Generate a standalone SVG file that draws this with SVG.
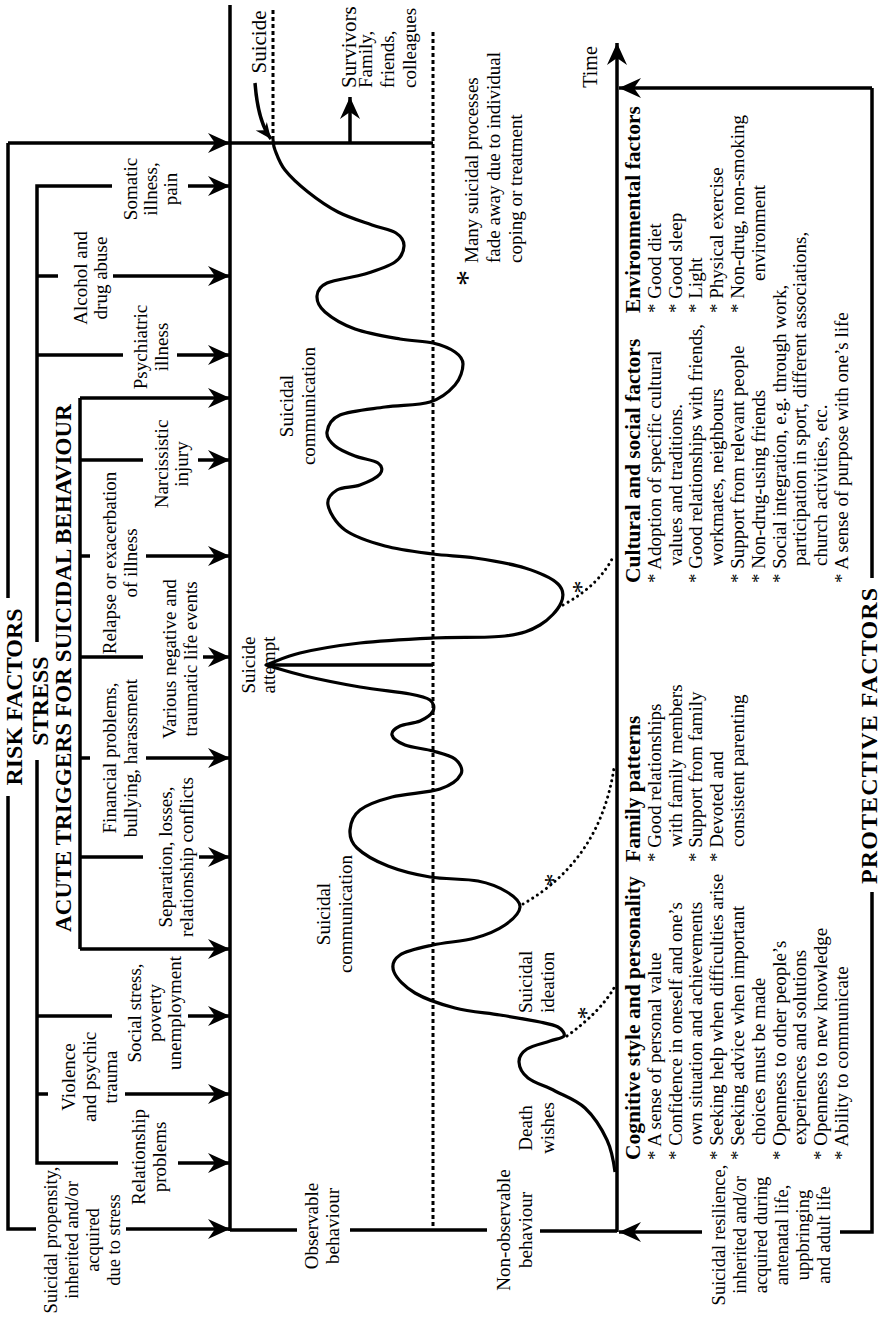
<svg xmlns="http://www.w3.org/2000/svg" width="882" height="1320" viewBox="0 0 882 1320">
<style>
text{font-family:"Liberation Serif","Times New Roman",serif;fill:#000}
.t{font-size:19px}
.p{font-size:19px}
.h{font-size:24px;font-weight:bold}
.hb{font-size:21.5px;font-weight:bold}
.ast{font-size:26px}
.ln{stroke:#000;stroke-width:3.5;fill:none}
.cv{stroke:#000;stroke-width:3.2;fill:none;stroke-linejoin:round}
.dash{stroke:#000;stroke-width:3;fill:none;stroke-dasharray:4 3}
.dots{stroke:#000;stroke-width:3;fill:none;stroke-dasharray:0.1 5.5;stroke-linecap:round}
.ar{marker-end:url(#ah)}
</style>
<defs>
<marker id="ah" markerUnits="userSpaceOnUse" markerWidth="26" markerHeight="24" viewBox="-24 -12 26 24" refX="0" refY="0" orient="auto"><path d="M0,0 L-22,-10 L-15,0 L-22,10 Z" fill="#000"/></marker>
<marker id="ahs" markerUnits="userSpaceOnUse" markerWidth="20" markerHeight="18" viewBox="-18 -9 20 18" refX="0" refY="0" orient="auto"><path d="M0,0 L-16,-7 L-11,0 L-16,7 Z" fill="#000"/></marker>
</defs>
<rect width="882" height="1320" fill="#fff"/>

<g id="connectors">
<path class="ln ar" d="M8,143 L230,143"/>
<path class="ln" d="M230,143 L433,143"/>
<path class="ln" d="M8,143 L8,598 M8,796 L8,1229 L36,1229"/>
<path class="ln ar" d="M126,1229 L230,1229"/>
<path class="ln" d="M112,186 L37,186 L37,642 M37,760 L37,1163 L118,1163"/>
<path class="ln" d="M37,276 L58,276 M37,355 L123,355 M37,1016 L112,1016 M37,1094 L48,1094"/>
<path class="ln ar" d="M188,186 L230,186"/>
<path class="ln ar" d="M113,276 L230,276"/>
<path class="ln ar" d="M177,355 L230,355"/>
<path class="ln ar" d="M188,1016 L230,1016"/>
<path class="ln ar" d="M125,1094 L230,1094"/>
<path class="ln ar" d="M178,1163 L230,1163"/>
<path class="ln" d="M80,398 L80,949"/>
<path class="ln ar" d="M80,398 L230,398"/>
<path class="ln ar" d="M80,949 L230,949"/>
<path class="ln" d="M80,460 L143,460 M80,556 L90,556 M80,657 L143,657 M80,758 L90,758 M80,857 L143,857"/>
<path class="ln ar" d="M198,460 L230,460"/>
<path class="ln ar" d="M146,556 L230,556"/>
<path class="ln ar" d="M203,657 L230,657"/>
<path class="ln ar" d="M146,758 L230,758"/>
<path class="ln ar" d="M199,857 L230,857"/>
<path class="ln" d="M230,5 L230,1231"/>
<path class="ln" d="M230,1230 L297,1230 M350,1230 L487,1230 M540,1231 L617,1231"/>
<path class="dash" d="M433,32 L433,1228"/>
<path class="dash" d="M273,10 L273,140"/>
<path class="ln ar" d="M350,143 L350,97"/>
<path class="ln" stroke-width="3" style="marker-end:url(#ahs)" d="M255,83 Q258,122 271,139"/>
<path class="ln ar" d="M617,1232 L617,43"/>
<path class="ln ar" d="M872,88 L619,88"/>
<path class="ln" d="M872,88 L872,578 M872,892 L872,1232 L840,1232"/>
<path class="ln ar" d="M702,1232 L619,1232"/>
<path class="cv" d="M615,1172 C613.7,1162 612,1150.7 607,1140 C602,1129.3 593.7,1116.2 585,1108 C576.3,1099.8 564.5,1096 555,1091 C545.5,1086 534,1082.8 528,1078 C522,1073.2 519.2,1066.8 519,1062 C518.8,1057.2 521.8,1052.5 527,1049 C532.2,1045.5 543.8,1043.2 550,1041 C556.2,1038.8 562.7,1038.3 564,1036 C565.3,1033.7 562,1029.3 558,1027 C554,1024.7 549.7,1024 540,1022 C530.3,1020 514.2,1017.3 500,1015 C485.8,1012.7 469.2,1011.7 455,1008 C440.8,1004.3 425.2,999 415,993 C404.8,987 396.5,978.3 394,972 C391.5,965.7 393.5,959.5 400,955 C406.5,950.5 420.5,947.8 433,945 C445.5,942.2 463,941.3 475,938 C487,934.7 497.5,930.2 505,925 C512.5,919.8 519.7,912.5 520,907 C520.3,901.5 514,896.3 507,892 C500,887.7 490.8,883.5 478,881 C465.2,878.5 445,879.5 430,877 C415,874.5 400.2,870.8 388,866 C375.8,861.2 363.3,854 357,848 C350.7,842 349.5,836.3 350,830 C350.5,823.7 353,815.5 360,810 C367,804.5 378.7,800.5 392,797 C405.3,793.5 428.5,792.8 440,789 C451.5,785.2 458.5,779 461,774 C463.5,769 459.7,762.8 455,759 C450.3,755.2 441.3,753.3 433,751 C424.7,748.7 411.8,747.7 405,745 C398.2,742.3 392.8,738.2 392,735 C391.2,731.8 395.3,728.3 400,726 C404.7,723.7 414.5,723.5 420,721 C425.5,718.5 431.3,714.5 433,711 C434.7,707.5 433.8,702.8 430,700 C426.2,697.2 421.7,696.2 410,694 C398.3,691.8 377.5,690 360,687 C342.5,684 320.7,679.7 305,676 C289.3,672.3 279,668.7 266,665 C277.3,661 284.3,656.7 300,653 C315.7,649.3 337.8,645.5 360,643 C382.2,640.5 408.8,639.2 433,638 C457.2,636.8 487.2,638.2 505,636 C522.8,633.8 530.7,630.5 540,625 C549.3,619.5 558,609.8 561,603 C564,596.2 564,589.8 558,584 C552,578.2 538.8,572.3 525,568 C511.2,563.7 490.3,560.3 475,558 C459.7,555.7 448,556 433,554 C418,552 399.7,550 385,546 C370.3,542 354.5,536.8 345,530 C335.5,523.2 329.3,511.7 328,505 C326.7,498.3 331.7,493.3 337,490 C342.3,486.7 352.8,487.7 360,485 C367.2,482.3 377,477.7 380,474 C383,470.3 382.2,466 378,463 C373.8,460 362.2,458.8 355,456 C347.8,453.2 339.7,450 335,446 C330.3,442 326.2,437.2 327,432 C327.8,426.8 330.3,419.2 340,415 C349.7,410.8 370,409.2 385,407 C400,404.8 418.3,405.7 430,402 C441.7,398.3 449.5,391.3 455,385 C460.5,378.7 463,369.5 463,364 C463,358.5 460,355.5 455,352 C450,348.5 442.2,345.2 433,343 C423.8,340.8 413,341.3 400,339 C387,336.7 367.5,333.5 355,329 C342.5,324.5 331.3,317.5 325,312 C318.7,306.5 316.7,300.8 317,296 C317.3,291.2 319,286.7 327,283 C335,279.3 353.7,277.5 365,274 C376.3,270.5 388.5,266.7 395,262 C401.5,257.3 403.8,250.8 404,246 C404.2,241.2 401.3,236.5 396,233 C390.7,229.5 381.7,228.5 372,225 C362.3,221.5 348.7,217.5 338,212 C327.3,206.5 316.8,199 308,192 C299.2,185 290.5,177 285,170 C279.5,163 277,155 275,150 C273,145 273.7,143.3 273,140"/>
<path class="ln" d="M268,665 L433,665"/>
<path class="dots" d="M567,1036 Q600,1012 614,988"/>
<path class="dots" d="M523,904 Q600,860 614,768"/>
<path class="dots" d="M563,605 Q600,585 614,555"/>
</g>

<g id="risk-heading"><text class="h" transform="translate(22,697) rotate(-90)" text-anchor="middle">RISK FACTORS</text></g>
<g id="stress-heading"><text class="h" transform="translate(48,701) rotate(-90)" text-anchor="middle">STRESS</text></g>
<g id="acute-heading"><text class="h" style="font-size:23px" transform="translate(71,932) rotate(-90)" textLength="528" lengthAdjust="spacing">ACUTE TRIGGERS FOR SUICIDAL BEHAVIOUR</text></g>

<g id="propensity"><text class="t" style="font-size:18.5px" transform="translate(57,1240) rotate(-90)" text-anchor="middle"><tspan x="0" y="0">Suicidal propensity,</tspan><tspan x="0" y="21">inherited and/or</tspan><tspan x="0" y="42">acquired</tspan><tspan x="0" y="63">due to stress</tspan></text></g>
<g id="relationship"><text class="t" transform="translate(145,1157) rotate(-90)" text-anchor="middle"><tspan x="0" y="0">Relationship</tspan><tspan x="0" y="21">problems</tspan></text></g>
<g id="violence"><text class="t" transform="translate(75,1077) rotate(-90)" text-anchor="middle"><tspan x="0" y="0">Violence</tspan><tspan x="0" y="21">and psychic</tspan><tspan x="0" y="42">trauma</tspan></text></g>
<g id="social-stress"><text class="t" transform="translate(141,1013) rotate(-90)" text-anchor="middle"><tspan x="0" y="0">Social stress,</tspan><tspan x="0" y="20">poverty</tspan><tspan x="0" y="40">unemployment</tspan></text></g>
<g id="separation"><text class="t" transform="translate(172,857) rotate(-90)" text-anchor="middle"><tspan x="0" y="0">Separation, losses,</tspan><tspan x="0" y="21">relationship conflicts</tspan></text></g>
<g id="financial"><text class="t" transform="translate(116,758) rotate(-90)" text-anchor="middle"><tspan x="0" y="0">Financial problems,</tspan><tspan x="0" y="21">bullying, harassment</tspan></text></g>
<g id="various"><text class="t" transform="translate(176,659) rotate(-90)" text-anchor="middle"><tspan x="0" y="0">Various negative and</tspan><tspan x="0" y="21">traumatic life events</tspan></text></g>
<g id="relapse"><text class="t" transform="translate(116,563) rotate(-90)" text-anchor="middle"><tspan x="0" y="0">Relapse or exacerbation</tspan><tspan x="0" y="21">of  illness</tspan></text></g>
<g id="narcissistic"><text class="t" transform="translate(168,464) rotate(-90)" text-anchor="middle"><tspan x="0" y="0">Narcissistic</tspan><tspan x="0" y="20">injury</tspan></text></g>
<g id="psychiatric"><text class="t" transform="translate(147,347) rotate(-90)" text-anchor="middle"><tspan x="0" y="0">Psychiatric</tspan><tspan x="0" y="21">illness</tspan></text></g>
<g id="alcohol"><text class="t" transform="translate(87,278) rotate(-90)" text-anchor="middle"><tspan x="0" y="0">Alcohol and</tspan><tspan x="0" y="20">drug abuse</tspan></text></g>
<g id="somatic"><text class="t" transform="translate(137,189) rotate(-90)" text-anchor="middle"><tspan x="0" y="0">Somatic</tspan><tspan x="0" y="20">illness,</tspan><tspan x="0" y="40">pain</tspan></text></g>

<g id="observable"><text class="t" transform="translate(318,1226) rotate(-90)" text-anchor="middle"><tspan x="0" y="0">Observable</tspan><tspan x="0" y="21">behaviour</tspan></text></g>
<g id="non-observable"><text class="t" transform="translate(510,1230) rotate(-90)" text-anchor="middle"><tspan x="0" y="0">Non-observable</tspan><tspan x="0" y="22">behaviour</tspan></text></g>
<g id="death-wishes"><text class="t" transform="translate(532,1128) rotate(-90)" text-anchor="middle"><tspan x="0" y="0">Death</tspan><tspan x="0" y="22">wishes</tspan></text></g>
<g id="ideation"><text class="t" transform="translate(532,1013) rotate(-90)"><tspan x="0" y="0">Suicidal</tspan><tspan x="0" y="22">ideation</tspan></text></g>
<g id="communication-1"><text class="t" transform="translate(330,914) rotate(-90)" text-anchor="middle"><tspan x="0" y="0">Suicidal</tspan><tspan x="0" y="22">communication</tspan></text></g>
<g id="communication-2"><text class="t" transform="translate(293,406) rotate(-90)" text-anchor="middle"><tspan x="0" y="0">Suicidal</tspan><tspan x="0" y="22">communication</tspan></text></g>
<g id="attempt"><text class="t" transform="translate(255,665) rotate(-90)" text-anchor="middle"><tspan x="0" y="0">Suicide</tspan><tspan x="0" y="20">attempt</tspan></text></g>
<g id="suicide"><text class="t" style="font-size:21px" transform="translate(266,42) rotate(-90)" text-anchor="middle">Suicide</text></g>
<g id="survivors"><text class="t" transform="translate(356,88) rotate(-90)"><tspan x="0" y="0" style="font-size:21px">Survivors</tspan><tspan x="0" y="16">Family,</tspan><tspan x="0" y="38">friends,</tspan><tspan x="0" y="60">colleagues</tspan></text></g>
<g id="fade-note"><text class="t" transform="translate(478,263) rotate(-90)"><tspan x="0" y="0">Many suicidal processes</tspan><tspan x="0" y="22">fade away due to individual</tspan><tspan x="0" y="44">coping or treatment</tspan></text>
<text transform="translate(478,278) rotate(-90)" text-anchor="middle" style="font-size:32px">*</text></g>
<g id="asterisks">
<text class="ast" transform="translate(595,1013) rotate(-90)" text-anchor="middle">*</text>
<text class="ast" transform="translate(562,880) rotate(-90)" text-anchor="middle">*</text>
<text class="ast" transform="translate(590,587) rotate(-90)" text-anchor="middle">*</text>
</g>
<g id="time"><text class="t" transform="translate(597,67) rotate(-90)" text-anchor="middle" style="font-size:20px">Time</text></g>

<g id="resilience"><text class="t" style="font-size:18.5px" transform="translate(725,1235) rotate(-90)" text-anchor="middle"><tspan x="0" y="0">Suicidal resilience,</tspan><tspan x="0" y="21">inherited and/or</tspan><tspan x="0" y="42">acquired during</tspan><tspan x="0" y="63">antenatal life,</tspan><tspan x="0" y="84">uppbringing</tspan><tspan x="0" y="105">and adult life</tspan></text></g>
<g id="protective-heading"><text class="h" transform="translate(877,884) rotate(-90)" textLength="296" lengthAdjust="spacing">PROTECTIVE FACTORS</text></g>

<g id="cognitive"><text class="p" transform="translate(640,1160) rotate(-90)"><tspan x="0" y="0" class="hb">Cognitive style and personality</tspan><tspan x="0" y="20.8">* A sense of personal value</tspan><tspan x="0" y="41.6">* Confidence in oneself and one’s</tspan><tspan x="15" y="62.4">own situation and achievements</tspan><tspan x="0" y="83.2">* Seeking help when difficulties arise</tspan><tspan x="0" y="104">* Seeking advice when important</tspan><tspan x="15" y="124.8">choices must be made</tspan><tspan x="0" y="145.6">* Openness to other people’s</tspan><tspan x="15" y="166.4">experiences and solutions</tspan><tspan x="0" y="187.2">* Openness to new knowledge</tspan><tspan x="0" y="208">* Ability to communicate</tspan></text></g>
<g id="family"><text class="p" transform="translate(640,862) rotate(-90)"><tspan x="0" y="0" class="hb">Family patterns</tspan><tspan x="0" y="20.8">* Good relationships</tspan><tspan x="15" y="41.6">with family members</tspan><tspan x="0" y="62.4">* Support from family</tspan><tspan x="0" y="83.2">* Devoted and</tspan><tspan x="15" y="104">consistent parenting</tspan></text></g>
<g id="cultural"><text class="p" transform="translate(640,583) rotate(-90)"><tspan x="0" y="0" class="hb">Cultural and social factors</tspan><tspan x="0" y="20.8">* Adoption of specific cultural</tspan><tspan x="17" y="41.6">values and  traditions.</tspan><tspan x="0" y="62.4">* Good relationships with friends,</tspan><tspan x="17" y="83.2">workmates, neighbours</tspan><tspan x="0" y="104">* Support from relevant people</tspan><tspan x="0" y="124.8">* Non-drug-using friends</tspan><tspan x="0" y="145.6">* Social integration, e.g. through work,</tspan><tspan x="17" y="166.4">participation in sport, different associations,</tspan><tspan x="17" y="187.2">church activities, etc.</tspan><tspan x="0" y="208">* A sense of purpose with one’s life</tspan></text></g>
<g id="environmental"><text class="p" transform="translate(640,313) rotate(-90)"><tspan x="0" y="0" class="hb">Environmental factors</tspan><tspan x="0" y="20.8">* Good diet</tspan><tspan x="0" y="41.6">* Good sleep</tspan><tspan x="0" y="62.4">* Light</tspan><tspan x="0" y="83.2">* Physical exercise</tspan><tspan x="0" y="104">* Non-drug, non-smoking</tspan><tspan x="32" y="124.8">environment</tspan></text></g>
</svg>
